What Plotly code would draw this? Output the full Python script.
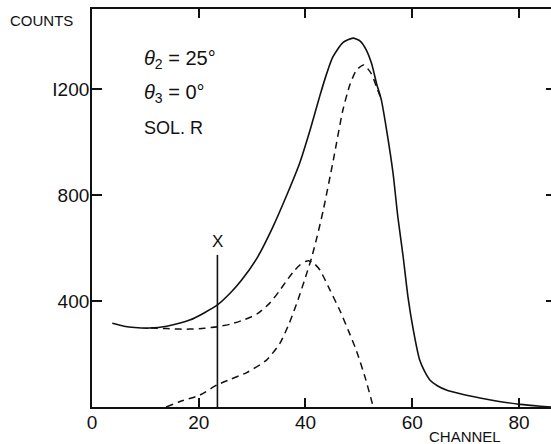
import plotly.graph_objects as go

# Total counts (solid line)
total_ch = [3.8, 6, 8, 10.8, 14, 18.3, 21, 23.5, 26, 28, 31, 33.9, 36.5, 38.9, 41, 42.7, 44, 45.1,
            47, 48.9, 50.3, 51.4, 52.4, 53.3, 54.2, 55.2, 56.4, 57.3, 58.3, 59.2, 60.2, 61.4, 62.3,
            63.3, 64.7, 66.4, 69, 72.7, 76, 80.2, 84, 86]
total_counts = [316, 305, 300, 298, 305, 328, 355, 385, 432, 478, 565, 680, 800, 920, 1055, 1175, 1260, 1320,
                1375, 1392, 1380, 1347, 1295, 1222, 1160, 1045, 883, 718, 567, 416, 291, 177, 135,
                102, 80, 64, 50, 34, 22, 10, 3, 0]

# Dashed component 1: background + lower peak
comp1_ch = [11, 14, 16.4, 18.3, 21, 23.5, 26, 28.6, 31, 33.3, 35, 36.4, 37.8, 38.9, 40, 40.6, 41.7,
            42.7, 44.5, 46.4, 48, 49.5, 51.2, 52.7]
comp1_counts = [298, 296, 294, 294, 297, 303, 313, 330, 352, 392, 435, 475, 512, 535, 549, 552, 540,
                517, 445, 366, 290, 215, 110, 0]

# Dashed component 2: main peak
comp2_ch = [13.9, 16.4, 20.2, 23.4, 26, 29, 32.7, 35.2, 37, 38.6, 40, 41.1, 42.2, 43.3, 45.2, 47,
            48.3, 49.5, 50.9, 52.3, 53.3, 54.2]
comp2_counts = [0, 20, 45, 83, 105, 130, 177, 240, 318, 405, 490, 560, 645, 740, 930, 1120,
                1215, 1270, 1291, 1259, 1209, 1160]

# Marker line "X"
marker_ch = [23.5, 23.5]
marker_counts = [0, 574]

x_ticks = [0, 20, 40, 60, 80]
y_ticks = [400, 800, 1200]
y_tick_text = ["400", "800", "I200"]

FONT = "Liberation Sans"
INK = "#111111"

fig = go.Figure()
fig.add_trace(go.Scatter(x=total_ch, y=total_counts, mode="lines",
                         line=dict(color=INK, width=1.6, shape="spline", smoothing=0.6),
                         showlegend=False, hoverinfo="skip"))
fig.add_trace(go.Scatter(x=comp1_ch, y=comp1_counts, mode="lines",
                         line=dict(color=INK, width=1.5, dash="7px,5px", shape="spline", smoothing=0.6),
                         showlegend=False, hoverinfo="skip"))
fig.add_trace(go.Scatter(x=comp2_ch, y=comp2_counts, mode="lines",
                         line=dict(color=INK, width=1.5, dash="7px,5px", shape="spline", smoothing=0.6),
                         showlegend=False, hoverinfo="skip"))
fig.add_trace(go.Scatter(x=marker_ch, y=marker_counts, mode="lines",
                         line=dict(color=INK, width=1.6),
                         showlegend=False, hoverinfo="skip"))
# invisible trace to anchor right-side tick axis
fig.add_trace(go.Scatter(x=[0], y=[0], yaxis="y2", mode="markers",
                         marker=dict(opacity=0), showlegend=False, hoverinfo="skip"))

fig.update_layout(
    width=551, height=444,
    margin=dict(l=92, r=0, t=9, b=37),
    paper_bgcolor="white", plot_bgcolor="white",
    font=dict(family=FONT, color=INK, size=17),
    xaxis=dict(range=[0, 86], tickvals=x_ticks, ticks="inside", ticklen=9, tickwidth=1.5,
               tickcolor=INK, showline=True, linecolor=INK, linewidth=1.8, mirror="ticks",
               showgrid=False, zeroline=False, ticklabelstandoff=-3,
               tickfont=dict(size=19, family=FONT)),
    yaxis=dict(range=[0, 1502], tickvals=y_ticks, ticktext=y_tick_text, ticks="inside",
               ticklen=10, tickwidth=1.5, tickcolor=INK, showline=True, linecolor=INK,
               linewidth=1.8, showgrid=False, zeroline=False, ticklabelstandoff=-3,
               tickfont=dict(size=19, family=FONT)),
    yaxis2=dict(range=[0, 1502], overlaying="y", side="right", tickvals=y_ticks,
                ticks="inside", ticklen=5, tickwidth=1.5, tickcolor=INK,
                showticklabels=False, showline=False, showgrid=False, zeroline=False),
    annotations=[
        dict(text="COUNTS", xref="paper", yref="paper", x=-0.11, y=0.97,
             xanchor="center", yanchor="middle", showarrow=False, font=dict(size=15)),
        dict(text="CHANNEL", xref="paper", yref="paper", x=0.813, y=-0.075,
             xanchor="center", yanchor="middle", showarrow=False, font=dict(size=15)),
        dict(text="<i>θ</i><sub>2</sub> = 25°", xref="x", yref="y", x=9.3, y=1312,
             xanchor="left", yanchor="middle", showarrow=False, font=dict(size=20)),
        dict(text="<i>θ</i><sub>3</sub> = 0°", xref="x", yref="y", x=9.3, y=1182,
             xanchor="left", yanchor="middle", showarrow=False, font=dict(size=20)),
        dict(text="SOL. R", xref="x", yref="y", x=9.3, y=1053,
             xanchor="left", yanchor="middle", showarrow=False, font=dict(size=18)),
        dict(text="X", xref="x", yref="y", x=23.5, y=625,
             xanchor="center", yanchor="middle", showarrow=False, font=dict(size=17)),
    ],
)

fig.write_html("out.html")
